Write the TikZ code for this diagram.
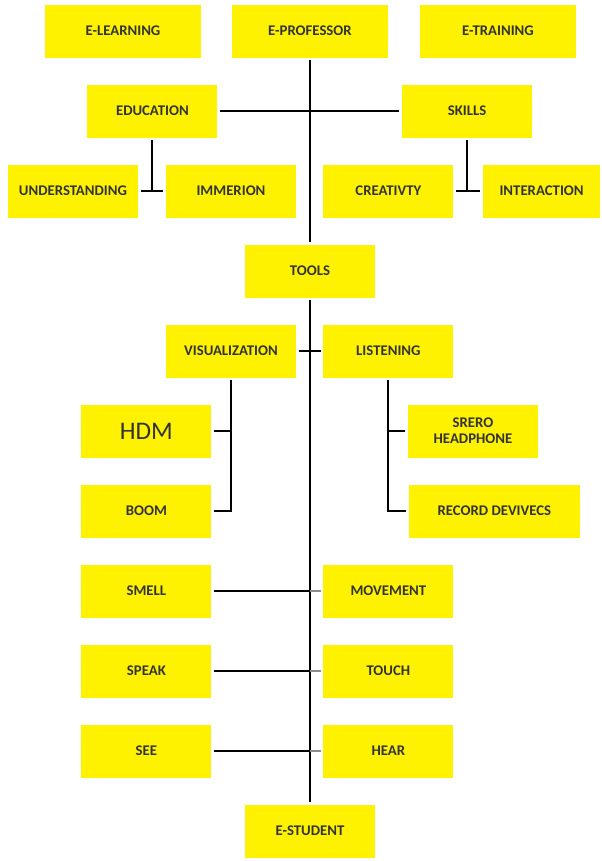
\documentclass[tikz,border=0pt]{standalone}
\usepackage{fontspec}
\setmainfont{Carlito}
\begin{document}
\begin{tikzpicture}[node distance=2cm]
        \tikzstyle{box} = [rectangle, fill=yellow, minimum width=3.25cm, minimum height=1.325cm, align=center, outer sep=2pt, text=black!80, font=\fontsize{10.5}{11.5}\selectfont\bfseries]
        \tikzstyle{topbox} = [box, minimum width=3.9cm]
        \tikzstyle{link} = [line width=1.5pt]
        \tikzstyle{spine} = [line width=2pt]
        \tikzstyle{tick} = [line width=1pt, black!45]

        \useasboundingbox (-7.75,0.775) rectangle (7.275,-20.75);

        \node (eprof) [topbox] {E-PROFESSOR};
        \node (elearn) [topbox, xshift=-4.675cm] at (eprof) {E-LEARNING};
        \node (etrain) [topbox, xshift=4.7cm] at (eprof) {E-TRAINING};

        \node (edu) [box, below of=eprof, xshift=-3.94cm] {EDUCATION};
        \node (skills) [box, below of=eprof, xshift=3.925cm] {SKILLS};
        \node (under) [box, below of=edu, xshift=-1.985cm] {UNDERSTANDING};
        \node (immer) [box, below of=edu, xshift=1.965cm] {IMMERION};
        \node (creat) [box, below of=skills, xshift=-1.965cm] {CREATIVTY};
        \node (inter) [box, below of=skills, xshift=1.865cm, minimum width=2.925cm] {INTERACTION};

        \node (tools) [box, below of=eprof, node distance=6cm] {TOOLS};
        \node (vis) [box, below of=tools, xshift=-1.975cm] {VISUALIZATION};
        \node (list) [box, below of=tools, xshift=1.96cm] {LISTENING};
        \node (hdm) [box, below of=vis, xshift=-2.115cm, font=\fontsize{18}{20}\selectfont\mdseries] {HDM};
        \node (boom) [box, below of=hdm] {BOOM};
        \node (srero) [box, below of=list, xshift=2.115cm] {SRERO\\HEADPHONE};
        \node (record) [box, below of=srero, xshift=0.535cm, minimum width=4.275cm] {RECORD DEVIVECS};

        \node (smell) [box, below of=boom] {SMELL};
        \node (speak) [box, below of=smell] {SPEAK};
        \node (see) [box, below of=speak] {SEE};
        \node (move) [box, below of=record, xshift=-2.65cm] {MOVEMENT};
        \node (touch) [box, below of=move] {TOUCH};
        \node (hear) [box, below of=touch] {HEAR};
        \node (estud) [box, below of=tools, node distance=14cm] {E-STUDENT};

        % main line
        \draw[spine] (eprof) -- (tools);
        \draw[spine] (tools) -- (estud);

        % education / skills
        \draw[link] (edu) -- (skills);
        \draw[link] (under) -- (immer);
        \draw[link] (edu) -- (edu |- under);
        \draw[link] (creat) -- (inter);
        \draw[link] (skills) -- (skills |- creat);

        % tools branches
        \draw[link] (vis) -- (list);
        \draw[link] (vis) -- (vis |- boom) -- (boom);
        \draw[link] (hdm) -- (vis |- hdm);
        \draw[link] (list) -- (list |- record) -- (record);
        \draw[link] (srero) -- (list |- srero);

        % senses
        \draw[link] (smell) -- (smell -| tools);
        \draw[tick] (smell -| tools) -- (move);
        \draw[link] (speak) -- (speak -| tools);
        \draw[tick] (speak -| tools) -- (touch);
        \draw[link] (see) -- (see -| tools);
        \draw[tick] (see -| tools) -- (hear);
    \end{tikzpicture}
\end{document}
